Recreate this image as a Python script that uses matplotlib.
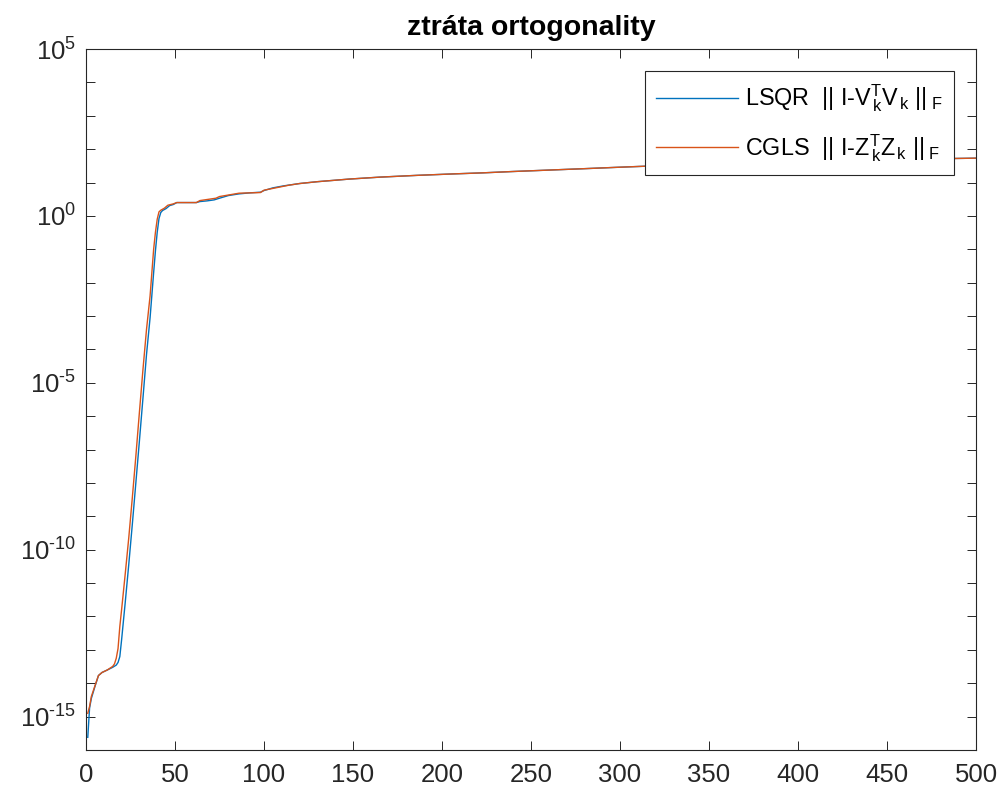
import numpy as np
import matplotlib
matplotlib.use("Agg")
import matplotlib.pyplot as plt
from matplotlib.ticker import LogLocator, FixedLocator, FixedFormatter, NullFormatter

# iteration -> ||I - V_k^T V_k||_F (LSQR)
lsqr_iter = [1, 2, 3, 5, 7, 9, 12, 15, 17, 18, 19, 20, 21, 22, 24, 26, 28, 30,
             32, 34, 36, 38, 39, 40, 41, 42, 43, 45, 47, 49, 51, 62, 64, 68,
             72, 75, 80, 86, 92, 98, 100, 105, 111, 120, 130, 148, 165, 186,
             205, 223, 240, 261, 280, 298, 310, 350, 400, 450, 488, 500]
lsqr_loss = [2.4e-16, 1.8e-15, 3.5e-15, 7.9e-15, 1.7e-14, 2.1e-14, 2.5e-14,
             3.0e-14, 3.5e-14, 4.2e-14, 6.3e-14, 2.0e-13, 7.1e-13, 2.5e-12,
             3.5e-11, 5.6e-10, 1.0e-8, 1.8e-7, 3.5e-6, 7.1e-5, 8.9e-4, 2.0e-2,
             8.9e-2, 0.32, 0.83, 1.26, 1.45, 1.66, 2.04, 2.19, 2.51, 2.51,
             2.69, 2.82, 3.02, 3.39, 4.07, 4.57, 4.90, 5.13, 5.75, 6.92, 7.94,
             9.33, 10.6, 12.7, 14.5, 16.4, 18.0, 19.5, 21.4, 23.7, 26.0, 28.5,
             30.2, 36.3, 42.7, 48.4, 52.5, 53.7]

# iteration -> ||I - Z_k^T Z_k||_F (CGLS)
cgls_iter = [1, 2, 3, 5, 7, 9, 12, 15, 16, 17, 18, 19, 20, 22, 24, 26, 28, 30,
             32, 34, 36, 38, 39, 40, 41, 42, 44, 46, 49, 51, 62, 64, 73, 75,
             86, 98, 100, 114, 120, 130, 148, 165, 186, 205, 223, 240, 261,
             280, 298, 310, 350, 400, 450, 488, 500]
cgls_loss = [1.26e-15, 2.0e-15, 4.0e-15, 8.3e-15, 1.7e-14, 2.1e-14, 2.5e-14,
             3.2e-14, 3.8e-14, 5.6e-14, 1.1e-13, 5.0e-13, 1.6e-12, 1.8e-11,
             2.2e-10, 3.5e-9, 6.3e-8, 1.3e-6, 2.5e-5, 4.0e-4, 4.0e-3, 0.1,
             0.32, 0.79, 1.32, 1.48, 1.70, 2.09, 2.29, 2.51, 2.51, 2.88, 3.39,
             3.80, 4.79, 5.01, 5.89, 8.32, 9.33, 10.6, 12.7, 14.5, 16.4, 18.0,
             19.5, 21.4, 23.7, 26.0, 28.5, 30.2, 36.3, 42.7, 48.4, 52.5, 53.7]

labels = [r"LSQR  || I-V$^T_{\,k}$V$_{\,k}$ ||$_{\;F}$",
          r"CGLS  || I-Z$^T_{\,k}$Z$_{\,k}$ ||$_{\;F}$"]
colors = ["#0072BD", "#D95319"]

x_ticks = [0, 50, 100, 150, 200, 250, 300, 350, 400, 450, 500]
y_ticks = [1e-15, 1e-10, 1e-5, 1e0, 1e5]
y_tick_labels = [r"10$^{\text{-15}}$", r"10$^{\text{-10}}$", r"10$^{\text{-5}}$",
                 r"10$^{0}$", r"10$^{5}$"]

plt.rcParams["font.family"] = ["Liberation Sans", "DejaVu Sans"]
plt.rcParams["mathtext.fontset"] = "custom"
plt.rcParams["mathtext.rm"] = "Liberation Sans"
plt.rcParams["mathtext.it"] = "Liberation Sans"
plt.rcParams["mathtext.bf"] = "Liberation Sans:bold"
plt.rcParams["axes.unicode_minus"] = False

ink = "#262626"

fig = plt.figure(figsize=(10.03, 7.93), dpi=100)
ax = fig.add_axes([86 / 1003, 43 / 793, 890 / 1003, 701 / 793])

ax.semilogy(lsqr_iter, lsqr_loss, color=colors[0], lw=1.0, label=labels[0])
ax.semilogy(cgls_iter, cgls_loss, color=colors[1], lw=1.0, label=labels[1])

ax.set_xlim(0, 500)
ax.set_ylim(1e-16, 1e5)
ax.xaxis.set_major_locator(FixedLocator(x_ticks))
ax.yaxis.set_major_locator(FixedLocator(y_ticks))
ax.yaxis.set_major_formatter(FixedFormatter(y_tick_labels))
ax.yaxis.set_minor_locator(LogLocator(base=10, subs=(1.0,), numticks=40))
ax.yaxis.set_minor_formatter(NullFormatter())

ax.tick_params(which="both", direction="in", top=True, right=True,
               length=6.5, width=0.7, color=ink, labelcolor=ink,
               labelsize=18.5)
ax.tick_params(axis="x", pad=9)
ax.tick_params(axis="y", pad=7)
for s in ax.spines.values():
    s.set_color(ink)
    s.set_linewidth(0.8)

ax.set_title("ztráta ortogonality", fontsize=20.5, fontweight="bold",
             color="black", pad=10)

leg = ax.legend(loc="upper right", bbox_to_anchor=(868 / 890, 679 / 701),
                borderaxespad=0, fontsize=16.8, handlelength=3.5,
                handletextpad=0.3, borderpad=0.5, labelspacing=0.75,
                fancybox=False, framealpha=1)
leg.get_frame().set_edgecolor(ink)
leg.get_frame().set_linewidth(0.8)
for t in leg.get_texts():
    t.set_color("black")

fig.savefig("out.png", dpi=100)
